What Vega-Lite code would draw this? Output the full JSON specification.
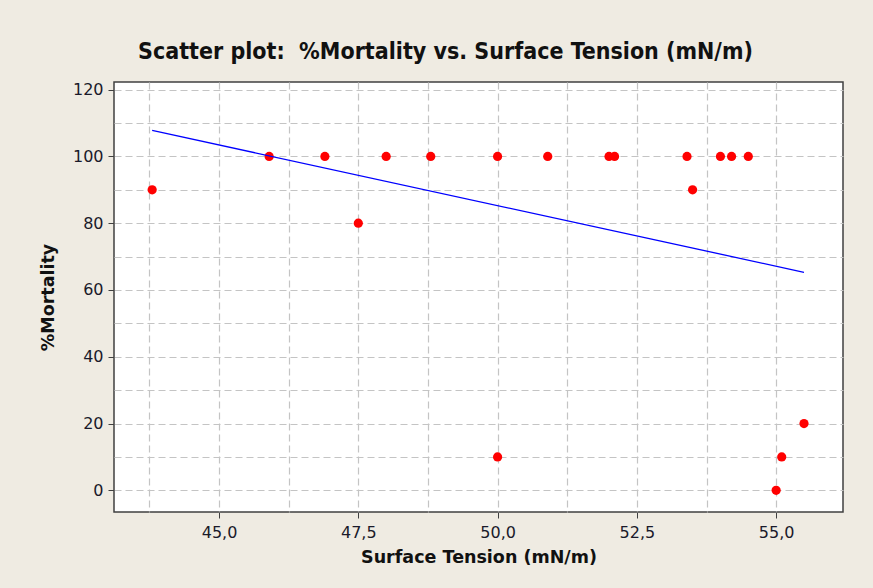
{
  "$schema": "https://vega.github.io/schema/vega-lite/v6.json",
  "width": 729,
  "height": 430,
  "autosize": {"type": "none"},
  "padding": {"left": 114, "top": 82, "right": 30, "bottom": 76},
  "background": "#EFEBE2",
  "title": {
    "text": "Scatter plot:\u00a0 %Mortality vs. Surface Tension (mN/m)",
    "font": "DejaVu Sans Condensed, DejaVu Sans",
    "fontSize": 23,
    "fontWeight": "bold",
    "color": "#111111",
    "anchor": "middle",
    "dx": -33,
    "offset": 18
  },
  "config": {
    "view": {"fill": "white", "stroke": "#404040", "strokeWidth": 1.5},
    "axis": {
      "labelFont": "DejaVu Sans",
      "titleFont": "DejaVu Sans",
      "labelFontSize": 16,
      "titleFontSize": 17.5,
      "titleFontWeight": "bold",
      "labelColor": "#1a1a2a",
      "titleColor": "#111111",
      "tickColor": "#404040",
      "domain": false,
      "gridColor": "#C4C4C4",
      "gridDash": [7, 4],
      "gridWidth": 1.2
    }
  },
  "datasets": {
    "points": [
      {"tension": 43.8, "mortality": 90},
      {"tension": 45.9, "mortality": 100},
      {"tension": 46.9, "mortality": 100},
      {"tension": 47.5, "mortality": 80},
      {"tension": 48.0, "mortality": 100},
      {"tension": 48.8, "mortality": 100},
      {"tension": 50.0, "mortality": 100},
      {"tension": 50.0, "mortality": 10},
      {"tension": 50.9, "mortality": 100},
      {"tension": 52.0, "mortality": 100},
      {"tension": 52.1, "mortality": 100},
      {"tension": 53.4, "mortality": 100},
      {"tension": 53.5, "mortality": 90},
      {"tension": 54.0, "mortality": 100},
      {"tension": 54.2, "mortality": 100},
      {"tension": 54.5, "mortality": 100},
      {"tension": 55.5, "mortality": 20},
      {"tension": 55.1, "mortality": 10},
      {"tension": 55.0, "mortality": 0}
    ],
    "fit": [
      {"tension": 43.8, "mortality": 107.8},
      {"tension": 55.5, "mortality": 65.3}
    ]
  },
  "layer": [
    {
      "data": {"name": "points"},
      "mark": {"type": "point", "filled": true, "color": "#FF0000", "size": 85, "opacity": 1},
      "encoding": {
        "x": {
          "field": "tension", "type": "quantitative",
          "scale": {"domain": [43.115, 56.2], "nice": false, "zero": false},
          "axis": {"orient": "bottom", "title": null, "labels": false, "ticks": false, "grid": true,
                   "values": [43.75, 45, 46.25, 47.5, 48.75, 50, 51.25, 52.5, 53.75, 55]}
        },
        "y": {
          "field": "mortality", "type": "quantitative",
          "scale": {"domain": [-6.5, 122.3], "nice": false, "zero": false},
          "axis": {"orient": "left", "title": null, "labels": false, "ticks": false, "grid": true,
                   "values": [0, 10, 20, 30, 40, 50, 60, 70, 80, 90, 100, 110, 120]}
        }
      }
    },
    {
      "data": {"name": "fit"},
      "mark": {"type": "line", "color": "#0000FF", "strokeWidth": 1.3},
      "encoding": {
        "x": {
          "field": "tension", "type": "quantitative",
          "axis": {"orient": "bottom", "title": "Surface Tension (mN/m)", "grid": false,
                   "values": [45, 47.5, 50, 52.5, 55], "tickSize": 6, "labelPadding": 6, "titlePadding": 8,
                   "labelExpr": "replace(format(datum.value, '.1f'), '.', ',')"}
        },
        "y": {
          "field": "mortality", "type": "quantitative",
          "axis": {"orient": "left", "title": "%Mortality", "grid": false,
                   "values": [0, 20, 40, 60, 80, 100, 120], "tickSize": 6, "labelPadding": 5, "titlePadding": 15}
        }
      }
    }
  ],
  "resolve": {"axis": {"x": "independent", "y": "independent"}}
}
